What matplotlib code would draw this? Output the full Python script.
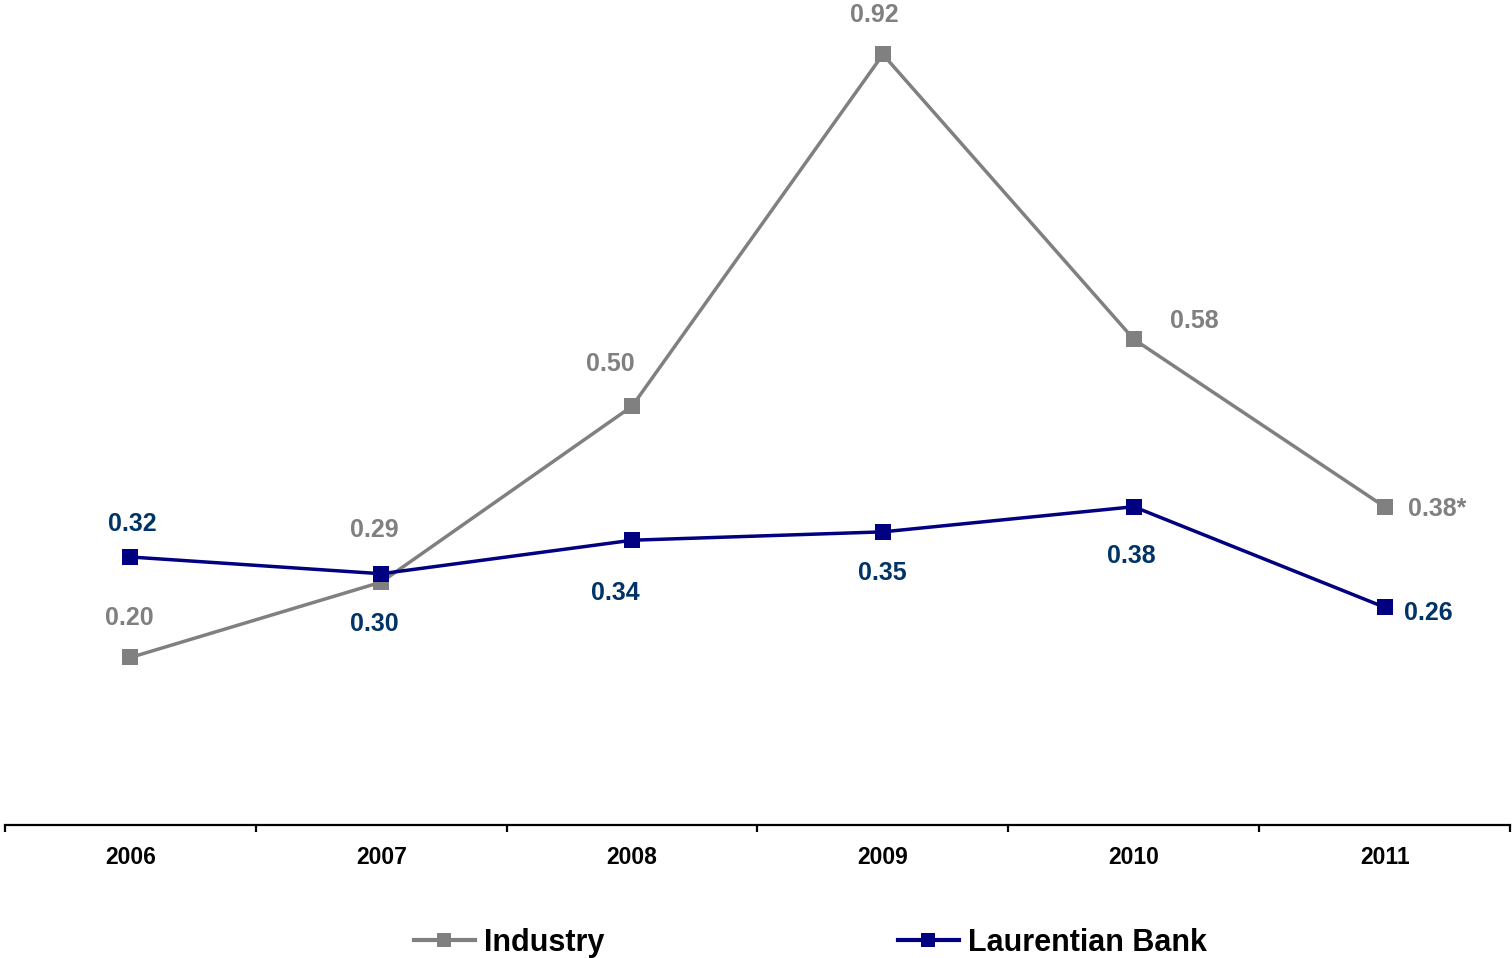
import matplotlib.pyplot as plt
import numpy as np
from matplotlib.lines import Line2D

years = ['2006', '2007', '2008', '2009', '2010', '2011']
industry = [0.20, 0.29, 0.50, 0.92, 0.58, 0.38]
bank = [0.32, 0.30, 0.34, 0.35, 0.38, 0.26]
industry_labels = ['0.20', '0.29', '0.50', '0.92', '0.58', '0.38*']
bank_labels = ['0.32', '0.30', '0.34', '0.35', '0.38', '0.26']

GREY = '#808080'
NAVY = '#000080'
LABEL_BLUE = '#003366'

# label offsets in pixels (dx, dy) relative to each marker
ind_off = [(-1, 39), (-7, 52), (-22, 42), (-9, 39), (61, 18), (23, -2)]
bank_off = [(2, 33), (-7, -50), (-17, -53), (-1, -41), (-2, -49), (19, -6)]

plt.rcParams['font.family'] = ['Liberation Sans', 'DejaVu Sans']

fig = plt.figure(figsize=(15.12, 9.58), dpi=100)
ax = fig.add_axes([5 / 1512, 1 - 825 / 958, 1505 / 1512, 825 / 958])

x = np.arange(len(years))
ax.plot(x, industry, color=GREY, lw=2.5, marker='s', ms=11,
        markeredgewidth=0, zorder=2)
ax.plot(x, bank, color=NAVY, lw=2.5, marker='s', ms=11,
        markeredgewidth=0, zorder=3)

for xi, yi, lab, (dx, dy) in zip(x, industry, industry_labels, ind_off):
    ha = 'left' if xi == 5 else 'center'
    ax.annotate(lab, (xi, yi), xytext=(dx, dy), textcoords='offset pixels',
                ha=ha, va='center', fontsize=18, fontweight='bold',
                color=GREY)
for xi, yi, lab, (dx, dy) in zip(x, bank, bank_labels, bank_off):
    ha = 'left' if xi == 5 else 'center'
    ax.annotate(lab, (xi, yi), xytext=(dx, dy), textcoords='offset pixels',
                ha=ha, va='center', fontsize=18, fontweight='bold',
                color=LABEL_BLUE)

ax.set_xlim(-0.5, 5.5)
ax.set_ylim(0, 0.985)
for s in ['top', 'left', 'right']:
    ax.spines[s].set_visible(False)
ax.spines['bottom'].set_linewidth(1.6)
ax.set_yticks([])
ax.set_xticks(x)
ax.set_xticklabels(years, fontsize=16.5, fontweight='bold')
ax.tick_params(axis='x', which='major', length=0, pad=15)
ax.set_xticks(np.arange(-0.5, 6, 1), minor=True)
ax.tick_params(axis='x', which='minor', length=5, width=1.6, direction='out')

handles = [
    Line2D([], [], color=GREY, lw=3, marker='s', ms=10, markeredgewidth=0),
    Line2D([], [], color=NAVY, lw=3, marker='s', ms=10, markeredgewidth=0),
]
fig.legend(handles, ['Industry', 'Laurentian Bank'], loc='center',
           bbox_to_anchor=(0.536, 1 - 943 / 958), ncol=2, frameon=False,
           handlelength=2.0, handletextpad=0.3, columnspacing=9.6,
           prop={'weight': 'bold', 'size': 22})

fig.savefig('out.png', dpi=100)
